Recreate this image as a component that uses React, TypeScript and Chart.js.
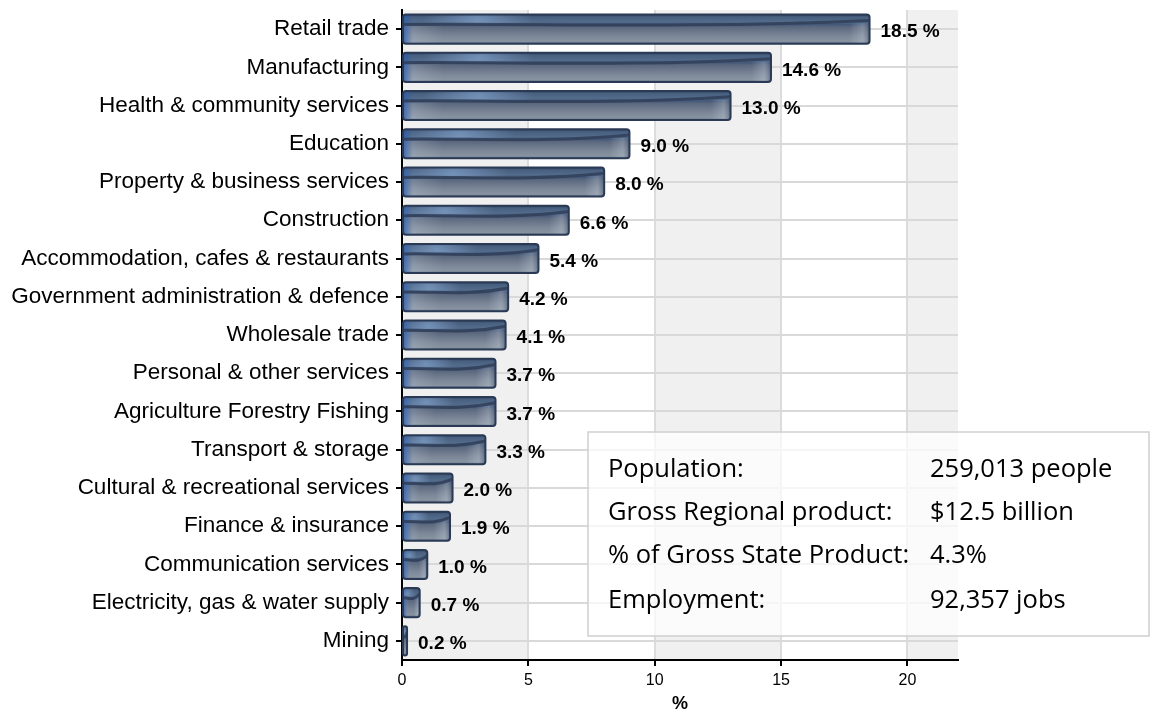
import { useEffect, useRef } from "react";
import { Chart, registerables } from "chart.js";

Chart.register(...registerables);

const categories = [
  "Retail trade",
  "Manufacturing",
  "Health & community services",
  "Education",
  "Property & business services",
  "Construction",
  "Accommodation, cafes & restaurants",
  "Government administration & defence",
  "Wholesale trade",
  "Personal & other services",
  "Agriculture Forestry Fishing",
  "Transport & storage",
  "Cultural & recreational services",
  "Finance & insurance",
  "Communication services",
  "Electricity, gas & water supply",
  "Mining",
];

const shares = [18.5, 14.6, 13.0, 9.0, 8.0, 6.6, 5.4, 4.2, 4.1, 3.7, 3.7, 3.3, 2.0, 1.9, 1.0, 0.7, 0.2];

const xTickValues = [0, 5, 10, 15, 20];
const xMax = 22;
const xTitle = "%";

const infoLabels = ["Population:", "Gross Regional product:", "% of Gross State Product:", "Employment:"];
const infoValues = ["259,013 people", "$12.5 billion", "4.3%", "92,357 jobs"];

function roundRectPath(ctx: CanvasRenderingContext2D, x: number, y: number, w: number, h: number, r: number) {
  const rr = Math.max(0, Math.min(r, w / 2, h / 2));
  ctx.beginPath();
  ctx.moveTo(x + rr, y);
  ctx.lineTo(x + w - rr, y);
  ctx.quadraticCurveTo(x + w, y, x + w, y + rr);
  ctx.lineTo(x + w, y + h - rr);
  ctx.quadraticCurveTo(x + w, y + h, x + w - rr, y + h);
  ctx.lineTo(x + rr, y + h);
  ctx.quadraticCurveTo(x, y + h, x, y + h - rr);
  ctx.lineTo(x, y + rr);
  ctx.quadraticCurveTo(x, y, x + rr, y);
  ctx.closePath();
}

const bandPlugin = {
  id: "bands",
  beforeDraw(chart: any) {
    const { ctx, chartArea, scales } = chart;
    const xs = scales.x;
    const edges = [...xTickValues, xMax];
    ctx.save();
    for (let i = 0; i < edges.length - 1; i++) {
      if (i % 2 !== 0) continue;
      const a = xs.getPixelForValue(edges[i]);
      const b = xs.getPixelForValue(edges[i + 1]);
      ctx.fillStyle = "#f0f0f0";
      ctx.fillRect(a, chartArea.top, b - a, chartArea.bottom - chartArea.top);
    }
    ctx.restore();
  },
};

const barStylePlugin = {
  id: "barStyle",
  afterDatasetsDraw(chart: any) {
    const { ctx, chartArea } = chart;
    const meta = chart.getDatasetMeta(0);
    ctx.save();
    ctx.beginPath();
    ctx.rect(chartArea.left, chartArea.top, chartArea.right - chartArea.left, chartArea.bottom - chartArea.top);
    ctx.clip();
    meta.data.forEach((bar: any) => {
      const p = bar.getProps(["x", "y", "base", "height"], true);
      const left = Math.min(p.base, p.x);
      const right = Math.max(p.base, p.x);
      const w = right - left;
      const h = p.height;
      const top = p.y - h / 2;
      const bot = p.y + h / 2;
      if (w < 1) return;
      ctx.save();
      roundRectPath(ctx, left, top, w, h, 3);
      ctx.clip();
      const g = ctx.createLinearGradient(0, top, 0, bot);
      g.addColorStop(0, "#2e3f58");
      g.addColorStop(0.08, "#485f7f");
      g.addColorStop(0.25, "#536c8b");
      g.addColorStop(0.34, "#44587a");
      g.addColorStop(0.42, "#5a677d");
      g.addColorStop(0.7, "#788395");
      g.addColorStop(0.92, "#8893a1");
      g.addColorStop(1, "#5e6a7e");
      ctx.fillStyle = g;
      ctx.fillRect(left, top, w, h);
      // light strip near left (lower part)
      const sw = Math.min(40, w * 0.35);
      const sg = ctx.createLinearGradient(left, 0, left + sw, 0);
      sg.addColorStop(0, "rgba(205,215,228,0.3)");
      sg.addColorStop(1, "rgba(205,215,228,0)");
      ctx.fillStyle = sg;
      ctx.fillRect(left, top + h * 0.38, sw, h * 0.62);
      // left blue edge
      const lw = Math.min(10, w * 0.3);
      const lg = ctx.createLinearGradient(left, 0, left + lw, 0);
      lg.addColorStop(0, "rgba(40,90,170,0.8)");
      lg.addColorStop(1, "rgba(40,90,170,0)");
      ctx.fillStyle = lg;
      ctx.fillRect(left, top, lw, h);
      // right edge highlight
      const rw = Math.min(20, w * 0.35);
      const rg = ctx.createLinearGradient(right - rw, 0, right, 0);
      rg.addColorStop(0, "rgba(210,220,232,0)");
      rg.addColorStop(0.65, "rgba(210,220,232,0.28)");
      rg.addColorStop(1, "rgba(60,75,100,0.45)");
      ctx.fillStyle = rg;
      ctx.fillRect(right - rw, top + h * 0.3, rw, h * 0.7);
      // top highlight
      const hx = left + Math.min(w * 0.25, 75);
      const hy = top + h * 0.18;
      const rad = ctx.createRadialGradient(hx, hy, 0, hx, hy, Math.max(8, Math.min(55, w * 0.3)));
      rad.addColorStop(0, "rgba(150,185,230,0.5)");
      rad.addColorStop(1, "rgba(150,185,230,0)");
      ctx.fillStyle = rad;
      ctx.fillRect(left, top, w, h * 0.33);
      // wave
      ctx.beginPath();
      ctx.moveTo(left, top + h * 0.34);
      ctx.bezierCurveTo(left + w * 0.3, top + h * 0.3, left + w * 0.6, top + h * 0.48, right, top + h * 0.2);
      ctx.strokeStyle = "rgba(48,62,88,0.85)";
      ctx.lineWidth = 3;
      ctx.stroke();
      ctx.restore();
      roundRectPath(ctx, left, top, w, h, 3);
      ctx.strokeStyle = "#2a3a55";
      ctx.lineWidth = 2;
      ctx.stroke();
    });
    ctx.restore();
  },
};

const valueLabelPlugin = {
  id: "valueLabels",
  afterDatasetsDraw(chart: any) {
    const { ctx } = chart;
    const meta = chart.getDatasetMeta(0);
    const data = chart.data.datasets[0].data as number[];
    ctx.save();
    ctx.font = "bold 19px 'Liberation Sans', Arial, sans-serif";
    ctx.fillStyle = "#000";
    ctx.textAlign = "left";
    ctx.textBaseline = "middle";
    meta.data.forEach((bar: any, i: number) => {
      const p = bar.getProps(["x", "y"], true);
      ctx.fillText(`${data[i].toFixed(1)} %`, p.x + 11, p.y + 3);
    });
    ctx.restore();
  },
};

const infoBoxPlugin = {
  id: "infoBox",
  afterDraw(chart: any) {
    const { ctx } = chart;
    const x1 = 588, y1 = 432, x2 = 1149, y2 = 636;
    ctx.save();
    ctx.fillStyle = "rgba(255,255,255,0.72)";
    ctx.fillRect(x1, y1, x2 - x1, y2 - y1);
    ctx.strokeStyle = "#cfcfcf";
    ctx.lineWidth = 1.5;
    ctx.strokeRect(x1, y1, x2 - x1, y2 - y1);
    ctx.fillStyle = "#000";
    ctx.font = "25.5px 'Open Sans', sans-serif";
    ctx.textBaseline = "middle";
    ctx.textAlign = "left";
    const rows = [470, 513, 556, 601];
    infoLabels.forEach((lab, i) => {
      ctx.fillText(lab, 608, rows[i]);
      ctx.fillText(infoValues[i], 930, rows[i]);
    });
    ctx.restore();
  },
};

export default function App() {
  const ref = useRef<HTMLCanvasElement | null>(null);
  useEffect(() => {
    if (!ref.current) return;
    const chart = new Chart(ref.current, {
      type: "bar",
      data: {
        labels: categories,
        datasets: [
          {
            data: shares,
            backgroundColor: "#7a8799",
            borderColor: "#2a3a55",
            borderWidth: 2,
            borderRadius: 3,
            borderSkipped: false,
            barPercentage: 0.76,
            categoryPercentage: 1,
          },
        ],
      },
      options: {
        indexAxis: "y",
        animation: false,
        responsive: false,
        devicePixelRatio: 1,
        layout: { padding: { top: 10, right: 192, left: 0, bottom: 0 } },
        plugins: { legend: { display: false }, tooltip: { enabled: false } },
        scales: {
          x: {
            type: "linear",
            min: 0,
            max: xMax,
            afterFit: (s: any) => {
              s.height = 55;
              s.paddingLeft = 0;
            },
            afterBuildTicks: (s: any) => {
              s.ticks = xTickValues.map((v) => ({ value: v }));
            },
            ticks: {
              color: "#000",
              font: { family: "'Liberation Sans', Arial, sans-serif", size: 16 },
              padding: 5,
            },
            grid: { color: "#dcdcdc", lineWidth: 2, tickColor: "#000", tickLength: 6, drawTicks: true },
            border: { color: "#000", width: 2 },
            title: {
              display: true,
              text: xTitle,
              color: "#000",
              font: { family: "'Liberation Sans', Arial, sans-serif", size: 18, weight: "bold" },
              padding: { top: 0, bottom: 0 },
            },
          },
          y: {
            afterFit: (s: any) => {
              s.width = 402;
              s.paddingTop = 0;
              s.paddingBottom = 0;
            },
            ticks: {
              color: "#000",
              font: { family: "'Liberation Sans', Arial, sans-serif", size: 22.5 },
              padding: 7,
            },
            grid: { color: "#d9d9d9", lineWidth: 2, tickColor: "#000", tickLength: 6, offset: false },
            border: { color: "#000", width: 2 },
          },
        },
      },
      plugins: [bandPlugin, barStylePlugin, valueLabelPlugin, infoBoxPlugin],
    } as any);
    return () => chart.destroy();
  }, []);
  return (
    <div style={{ position: "absolute", left: 0, top: 0, width: 1150, height: 715, background: "#fff" }}>
      <canvas ref={ref} width={1150} height={715} style={{ width: 1150, height: 715, display: "block" }} />
    </div>
  );
}
